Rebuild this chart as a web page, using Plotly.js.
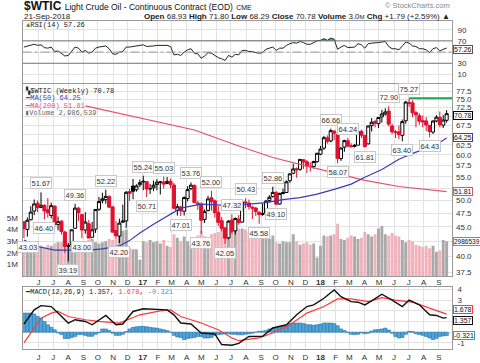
<!DOCTYPE html>
<html><head><meta charset="utf-8">
<script src="https://cdn.plot.ly/plotly-3.0.1.min.js"></script>
<style>html,body{margin:0;padding:0;background:#fff;}#chart{width:480px;height:363px;}</style>
</head><body><div id="chart"></div>
<script>
const weeks = ["2016-05-02","2016-05-09","2016-05-16","2016-05-23","2016-05-30","2016-06-06","2016-06-13","2016-06-20","2016-06-27","2016-07-04",
"2016-07-11","2016-07-18","2016-07-25","2016-08-01","2016-08-08","2016-08-15","2016-08-22","2016-08-29","2016-09-05","2016-09-12",
"2016-09-19","2016-09-26","2016-10-03","2016-10-10","2016-10-17","2016-10-24","2016-10-31","2016-11-07","2016-11-14","2016-11-21",
"2016-11-28","2016-12-05","2016-12-12","2016-12-19","2016-12-26","2017-01-02","2017-01-09","2017-01-16","2017-01-23","2017-01-30",
"2017-02-06","2017-02-13","2017-02-20","2017-02-27","2017-03-06","2017-03-13","2017-03-20","2017-03-27","2017-04-03","2017-04-10",
"2017-04-17","2017-04-24","2017-05-01","2017-05-08","2017-05-15","2017-05-22","2017-05-29","2017-06-05","2017-06-12","2017-06-19",
"2017-06-26","2017-07-03","2017-07-10","2017-07-17","2017-07-24","2017-07-31","2017-08-07","2017-08-14","2017-08-21","2017-08-28",
"2017-09-04","2017-09-11","2017-09-18","2017-09-25","2017-10-02","2017-10-09","2017-10-16","2017-10-23","2017-10-30","2017-11-06",
"2017-11-13","2017-11-20","2017-11-27","2017-12-04","2017-12-11","2017-12-18","2017-12-25","2018-01-01","2018-01-08","2018-01-15",
"2018-01-22","2018-01-29","2018-02-05","2018-02-12","2018-02-19","2018-02-26","2018-03-05","2018-03-12","2018-03-19","2018-03-26",
"2018-04-02","2018-04-09","2018-04-16","2018-04-23","2018-04-30","2018-05-07","2018-05-14","2018-05-21","2018-05-28","2018-06-04",
"2018-06-11","2018-06-18","2018-06-25","2018-07-02","2018-07-09","2018-07-16","2018-07-23","2018-07-30","2018-08-06","2018-08-13",
"2018-08-20","2018-08-27","2018-09-03","2018-09-10","2018-09-17"];

const openP = [45.92,44.55,46.31,47.94,49.47,48.62,49.05,48.22,47.10,48.90,
45.43,46.05,44.08,41.62,41.94,44.75,48.50,47.27,44.44,45.58,
43.17,44.59,48.29,49.96,50.18,50.83,48.74,44.36,43.38,45.85,
46.10,51.82,52.98,52.22,53.27,53.87,53.92,52.45,52.61,53.30,
53.80,53.86,53.54,54.01,53.20,48.05,48.73,47.91,50.40,52.47,
53.10,49.51,49.30,46.37,48.07,50.55,49.96,47.72,46.14,44.80,
43.07,46.25,44.29,46.45,45.87,49.73,49.50,48.70,48.52,47.71,
47.29,47.57,50.02,50.82,51.60,49.31,51.63,51.64,54.12,55.77,
56.80,56.65,58.86,58.40,57.27,57.30,58.40,60.20,61.66,64.26,
63.46,66.00,65.15,59.14,61.90,63.51,62.25,62.10,62.41,65.95,
64.90,62.73,67.48,68.61,68.00,69.87,70.67,71.53,67.40,65.75,
65.83,64.90,68.80,74.04,73.90,71.08,70.20,68.82,68.76,67.55,
65.76,68.73,69.75,67.60,68.93];
const highP = [46.05,46.74,48.88,50.21,50.00,51.67,49.28,50.48,49.60,49.05,
46.91,46.23,44.34,42.20,44.51,49.36,48.75,47.39,47.72,46.25,
45.92,48.30,50.74,51.60,52.22,51.04,48.91,46.08,46.51,49.20,
51.93,52.42,54.51,53.36,54.37,55.24,54.04,53.43,54.15,54.46,
54.08,55.03,54.94,54.62,53.66,49.35,48.98,50.85,52.94,53.76,
53.34,49.95,49.65,48.27,50.96,52.00,50.23,48.97,46.82,44.97,
46.26,47.32,46.74,47.20,49.81,50.43,50.22,49.00,48.77,47.94,
49.42,50.14,51.10,52.86,51.98,51.60,52.44,54.20,55.72,57.92,
57.08,58.98,59.05,58.80,58.29,58.62,60.51,62.21,64.77,64.89,
66.66,66.29,65.19,61.94,63.77,64.24,62.90,62.75,66.55,66.40,
64.93,67.45,69.56,69.09,69.84,71.89,72.30,72.90,67.96,66.30,
67.50,69.15,74.46,75.27,74.70,71.63,70.91,70.26,69.83,67.60,
68.95,70.36,71.40,70.41,71.80];
const lowP = [43.03,43.28,46.19,47.16,47.75,48.59,46.40,46.71,46.55,44.77,
44.39,43.64,40.57,39.19,41.61,44.74,46.10,43.00,43.80,43.03,
43.06,43.93,47.98,49.43,49.36,48.53,43.98,43.03,42.20,45.74,
44.82,49.93,50.27,51.82,52.77,52.11,50.71,51.35,51.92,52.12,
51.22,52.49,53.38,52.52,48.32,47.09,47.01,47.09,49.82,52.09,
49.45,48.18,43.76,45.69,47.85,47.99,46.69,45.20,44.21,42.05,
42.83,43.79,43.65,45.40,45.80,48.49,48.20,46.46,47.02,45.58,
47.04,46.97,49.58,50.60,49.10,49.19,51.25,51.55,53.71,55.55,
54.78,56.31,56.75,55.82,56.14,56.80,58.17,59.96,61.23,62.76,
63.12,63.65,58.07,58.60,60.78,61.90,61.85,61.83,62.40,64.23,
61.81,62.60,65.92,66.98,66.83,68.30,70.26,67.30,65.19,64.22,
63.96,63.40,67.98,72.77,69.80,67.03,67.74,67.01,66.09,64.43,
65.25,68.40,67.03,66.80,68.29];
const closeP = [44.66,46.21,47.75,49.33,48.62,49.07,47.98,47.64,48.99,45.41,
45.95,44.19,41.60,41.80,44.49,48.52,47.64,44.44,45.88,43.03,
44.48,48.24,49.81,50.35,50.85,48.70,44.07,43.41,45.69,46.06,
51.68,51.50,51.90,53.02,53.72,53.99,52.37,52.42,53.17,53.83,
53.86,53.40,53.99,53.33,48.49,48.78,47.97,50.60,52.24,53.18,
49.62,49.33,46.22,47.84,50.33,49.80,47.66,45.83,44.74,43.01,
46.04,44.23,46.54,45.77,49.71,49.58,48.82,48.51,47.87,47.29,
47.48,49.89,50.66,51.67,49.29,51.45,51.47,53.90,55.64,56.74,
56.55,58.95,58.36,57.36,57.30,58.47,60.42,61.44,64.30,63.37,
66.14,65.45,59.20,61.68,63.55,62.20,62.04,62.34,65.88,64.94,
62.06,67.39,68.38,68.10,69.72,70.70,71.28,67.88,65.81,65.74,
65.06,68.58,74.15,73.80,71.01,70.46,68.69,68.49,67.63,65.91,
68.72,69.80,67.75,68.99,70.78];
const volume = [2300000,2200000,2100000,2300000,2500000,2600000,2500000,2700000,2600000,2800000,
2900000,2900000,3000000,2600000,2800000,3000000,2700000,2800000,3000000,3100000,
3200000,2900000,2800000,2900000,3000000,3200000,3100000,3300000,3800000,3900000,
4000000,2400000,2300000,2300000,1400000,3000000,2900000,3100000,2900000,3000000,
2800000,3100000,2600000,2500000,3600000,3300000,3000000,3400000,3000000,2700000,
2800000,3500000,3900000,3400000,3300000,3600000,3700000,3800000,4000000,3800000,
3600000,4000000,3900000,4100000,4100000,4000000,3800000,3400000,3300000,3500000,
3300000,3400000,3200000,3500000,2900000,2800000,3000000,2900000,2900000,3600000,
3000000,2700000,2800000,2900000,2700000,2800000,1600000,2600000,3500000,3400000,
3500000,3600000,4500000,3200000,3100000,3300000,3500000,3400000,3200000,3300000,
3800000,3600000,3400000,3600000,4100000,4300000,3600000,3500000,3700000,3500000,
3400000,3100000,2900000,3100000,3000000,2700000,2600000,2500000,2600000,2400000,
2600000,2100000,2200000,3100000,2986539];

// moving averages
const ma50Dates = ["2016-05-02","2016-05-30","2016-07-04","2016-08-01","2016-09-12","2016-10-10","2016-11-14","2016-12-05","2016-12-26","2017-01-23","2017-02-27","2017-03-20","2017-05-01","2017-07-03","2017-09-11","2017-10-16","2017-11-20","2017-12-25","2018-01-29","2018-03-05","2018-04-02","2018-05-07","2018-06-11","2018-07-16","2018-08-20","2018-09-17"];
const ma50Vals = [42.7,41.6,41.0,41.0,41.0,41.2,41.7,42.6,43.9,45.5,47.3,48.5,49.3,49.0,49.6,50.2,50.6,51.3,52.3,53.4,54.9,56.6,59.0,60.7,62.0,64.25];
const ma200Dates = ["2016-09-05","2017-01-02","2017-04-17","2017-07-17","2017-09-25","2017-12-04","2018-02-12","2018-04-02","2018-06-11","2018-09-17"];
const ma200Vals = [73.0,69.4,66.3,62.2,59.4,57.4,55.5,54.2,52.9,51.81];

// RSI(14), one value per week
const rsi = [59,61,62,64,62,63,58,57,59,51,
52,48,43,44,51,59,57,50,53,48,
50,57,59,60,61,56,47,46,50,51,
59,59,60,62,63,63,60,60,61,62,
62,61,62,60,45,46,44,50,54,56,
48,47,39,43,49,48,44,40,38,35,
44,41,46,45,53,53,51,51,49,48,
49,55,57,59,53,57,57,62,65,67,
66,69,67,64,64,67,70,71,74,71,
75,73,55,59,62,58,59,59,65,63,
57,65,66,66,67,68,69,60,56,56,
54,61,68,66,61,60,56,56,54,49,
56,58,52,55,57.26];

// MACD(12,26,9)
const macdDates = ["2016-05-02","2016-05-23","2016-06-06","2016-06-27","2016-07-11","2016-08-01","2016-08-15","2016-09-05","2016-09-19","2016-10-17","2016-11-07","2016-11-21","2016-12-12","2017-01-02","2017-02-20","2017-03-06","2017-03-20","2017-04-10","2017-05-01","2017-05-29","2017-06-12","2017-07-03","2017-07-17","2017-08-07","2017-09-04","2017-09-25","2017-10-23","2017-11-13","2017-12-04","2017-12-18","2018-01-08","2018-01-29","2018-02-12","2018-03-05","2018-03-19","2018-04-02","2018-04-16","2018-05-07","2018-05-28","2018-06-18","2018-07-02","2018-07-23","2018-08-13","2018-08-27","2018-09-10","2018-09-17"];
const macdVals = [0.76,2.08,2.48,2.39,1.78,0.85,1.16,1.0,0.69,1.56,0.69,0.76,1.93,2.18,2.08,1.62,0.85,0.76,-0.08,-0.17,-1.16,-1.22,-1.05,-0.4,-0.39,0.39,0.69,1.62,2.39,2.55,3.17,3.94,3.31,2.85,2.8,2.55,2.92,3.54,3.0,2.39,3.0,2.55,1.62,1.56,1.31,1.357];
const signalDates = ["2016-05-02","2016-05-23","2016-06-06","2016-06-27","2016-07-11","2016-08-01","2016-09-05","2016-10-03","2016-11-14","2016-12-26","2017-02-06","2017-02-27","2017-03-20","2017-05-01","2017-06-05","2017-07-03","2017-07-17","2017-08-28","2017-09-25","2017-10-30","2017-12-04","2018-01-08","2018-02-05","2018-03-05","2018-04-09","2018-05-07","2018-06-04","2018-07-09","2018-08-13","2018-09-17"];
const signalVals = [-1.0,0.39,1.31,1.78,1.93,1.46,1.16,1.0,0.85,1.62,1.99,2.08,1.46,0.85,0.23,-0.54,-0.8,-0.54,-0.08,0.69,1.78,2.39,3.1,3.1,2.85,3.22,3.0,2.8,2.24,1.678];
const histVals = [1.78,1.78,1.78,1.70,1.46,1.31,1.00,0.69,0.45,0.23,
-0.08,-0.23,-0.60,-0.60,-0.50,-0.40,-0.23,-0.23,-0.30,-0.39,
-0.39,-0.20,-0.08,0.30,0.30,0.15,-0.10,-0.30,-0.30,-0.20,
0.05,0.30,0.45,0.50,0.54,0.54,0.50,0.45,0.40,0.38,
0.30,0.23,0.15,0.00,-0.30,-0.45,-0.50,-0.70,-0.60,-0.55,
-0.50,-0.40,-0.40,-0.55,-0.55,-0.50,-0.30,-0.23,-0.20,-0.15,
-0.15,-0.20,-0.20,-0.25,-0.25,-0.20,-0.15,-0.10,0.00,0.08,
0.10,0.15,0.30,0.38,0.40,0.50,0.54,0.60,0.80,0.85,
0.85,0.85,0.80,0.70,0.69,0.65,0.69,0.75,0.85,0.85,
0.85,0.80,0.60,0.30,0.15,-0.05,-0.20,-0.23,-0.20,-0.08,
-0.15,-0.10,0.10,0.23,0.25,0.30,0.38,0.20,-0.10,-0.40,
-0.55,-0.50,-0.20,0.08,0.05,-0.15,-0.23,-0.30,-0.40,-0.55,
-0.70,-0.60,-0.40,-0.35,-0.321];

// swing price labels
const labelDates = ["2016-05-02","2016-06-06","2016-06-13","2016-08-01","2016-08-15","2016-08-29","2016-10-17","2016-11-14","2017-01-02","2017-01-09","2017-02-13","2017-03-20","2017-04-10","2017-05-01","2017-05-22","2017-06-19","2017-07-03","2017-07-31","2017-08-28","2017-09-25","2017-10-02","2018-01-22","2018-02-05","2018-02-26","2018-04-02","2018-05-21","2018-06-18","2018-07-02","2018-08-13"];
const labelVals = [43.03,51.67,46.40,39.19,49.36,43.00,52.22,42.20,55.24,50.71,55.03,47.01,53.76,43.76,52.00,42.05,47.32,50.43,45.58,52.86,49.10,66.66,58.07,64.24,61.81,72.90,63.40,75.27,64.43];
const labelSide = ["L","H","L","L","H","L","H","L","H","L","H","L","H","L","H","L","H","H","L","H","L","H","L","H","L","H","L","H","L"];

// resistance line from the last major high
const resistDates = ["2018-07-02","2018-09-28"];
const resistVals = [75.27,75.27];

// axis ticks (labels hidden by the value tags in the reference are blank)
const monthTicks = ["2016-06-01","2016-07-01","2016-08-01","2016-09-01","2016-10-01","2016-11-01","2016-12-01","2017-01-01","2017-02-01","2017-03-01","2017-04-01","2017-05-01","2017-06-01","2017-07-01","2017-08-01","2017-09-01","2017-10-01","2017-11-01","2017-12-01","2018-01-01","2018-02-01","2018-03-01","2018-04-01","2018-05-01","2018-06-01","2018-07-01","2018-08-01","2018-09-01"];
const monthLabels = ["J","J","A","S","O","N","D","<b>17</b>","F","M","A","M","J","J","A","S","O","N","D","<b>18</b>","F","M","A","M","J","J","A","S"];
const priceTicks = [37.5,40,42.5,45,47.5,50,52.5,55,57.5,60,62.5,65,67.5,70,72.5,75,77.5];
const priceTickText = ["37.5","40.0","","45.0","47.5","50.0","","55.0","57.5","60.0","62.5","","67.5","","72.5","75.0","77.5"];
const volTicks = [1000000,2000000,3000000,4000000,5000000];
const volTickText = ["1M","2M","3M","4M","5M"];
const rsiTicks = [10,30,50,70,90];
const rsiTickText = ["10","30","","70","90"];
const macdTicks = [-1,0,1,2,3,4];
const macdTickText = ["-1","","","","3","4"];

// ---------- build ----------
const W = 480, H = 363;
const px = x => x / W, py = y => 1 - y / H;
const GRID = '#e2e2e2', FRAME = '#9a9a9a';
const RED = '#e0102f', BLK = '#000000';
const xRange = ['2016-04-29', '2018-09-28'];
const last = closeP.length - 1;

const prev = closeP.map((c, i) => i === 0 ? openP[0] : closeP[i - 1]);
const upIdx = [], dnIdx = [];
closeP.forEach((c, i) => (c >= prev[i] ? upIdx : dnIdx).push(i));
const pick = (a, idx) => idx.map(i => a[i]);

const traces = [];
traces.push({type:'bar', x:weeks, y:volume, xaxis:'x', yaxis:'y',
  marker:{color: closeP.map((c,i)=> c >= prev[i] ? '#a9a9a9' : '#f0b3bc'), line:{width:0}},
  width: 6*24*3600*1000, hoverinfo:'skip'});
traces.push({type:'scatter', mode:'lines', x:ma200Dates, y:ma200Vals, xaxis:'x', yaxis:'y4', line:{color:'#e8506c', width:1.2}});
traces.push({type:'scatter', mode:'lines', x:ma50Dates, y:ma50Vals, xaxis:'x', yaxis:'y4', line:{color:'#3c3cb4', width:1.2}});
traces.push({type:'candlestick', x:pick(weeks,upIdx), open:pick(openP,upIdx), high:pick(highP,upIdx), low:pick(lowP,upIdx), close:pick(closeP,upIdx),
  xaxis:'x', yaxis:'y4', whiskerwidth:0,
  increasing:{line:{color:BLK, width:1}, fillcolor:'#ffffff'}, decreasing:{line:{color:BLK, width:1}, fillcolor:BLK}});
traces.push({type:'candlestick', x:pick(weeks,dnIdx), open:pick(openP,dnIdx), high:pick(highP,dnIdx), low:pick(lowP,dnIdx), close:pick(closeP,dnIdx),
  xaxis:'x', yaxis:'y4', whiskerwidth:0,
  increasing:{line:{color:RED, width:1}, fillcolor:'#ffffff'}, decreasing:{line:{color:RED, width:1}, fillcolor:RED}});
traces.push({type:'scatter', mode:'lines', x:resistDates, y:resistVals, xaxis:'x', yaxis:'y4', line:{color:'#1aa64a', width:2}});

traces.push({type:'scatter', mode:'lines', x:weeks, y:rsi.map(()=>70), xaxis:'x2', yaxis:'y2', line:{width:0}, hoverinfo:'skip'});
traces.push({type:'scatter', mode:'lines', x:weeks, y:rsi.map(v=>Math.max(v,70)), xaxis:'x2', yaxis:'y2', line:{width:0}, fill:'tonexty', fillcolor:'rgba(70,160,80,0.85)'});
traces.push({type:'scatter', mode:'lines', x:weeks, y:rsi, xaxis:'x2', yaxis:'y2', line:{color:'#222', width:1}});

traces.push({type:'bar', x:weeks, y:histVals, xaxis:'x3', yaxis:'y3', width:7*24*3600*1000,
  marker:{color:'#4ea6d8', line:{color:'#2a73a8', width:0.6}}});
traces.push({type:'scatter', mode:'lines', x:signalDates, y:signalVals, xaxis:'x3', yaxis:'y3', line:{color:'#ff3a3a', width:1.2}});
traces.push({type:'scatter', mode:'lines', x:macdDates, y:macdVals, xaxis:'x3', yaxis:'y3', line:{color:'#111', width:1.4}});

const XDOM = [px(22.5), px(452)];
const rsiDom = [py(83), py(21)];
const mainDom = [py(276), py(84)];
const macdDom = [py(349), py(287)];
const tf = {family:'Liberation Sans, Arial, sans-serif', size:8, color:'#333'};
const xBase = {type:'date', range:xRange, tickvals:monthTicks, ticktext:monthLabels, showgrid:true, gridcolor:GRID, gridwidth:1,
  ticks:'', showline:true, mirror:true, linecolor:FRAME, linewidth:1, zeroline:false, tickfont:tf, ticklabelstandoff:0, domain:XDOM};

const ann = [];
const A = (o) => ann.push(Object.assign({showarrow:false, xref:'paper', yref:'paper'}, o));
A({x:px(22), y:py(6), xanchor:'left', yanchor:'middle',
  text:"<b>$WTIC</b> <span style='font-size:8.5px'>Light Crude Oil - Continuous Contract (EOD)</span> <span style='font-size:7px'>CME</span>",
  font:{family:'Liberation Sans, Arial, sans-serif', size:12, color:'#111'}});
A({x:px(452), y:py(6), xanchor:'right', yanchor:'middle', text:'© StockCharts.com', font:{family:'Liberation Sans, Arial, sans-serif', size:7.5, color:'#888'}});
A({x:px(22), y:py(16), xanchor:'left', yanchor:'middle', text:'21-Sep-2018', font:{family:'Liberation Sans, Arial, sans-serif', size:8, color:'#222'}});
const chg = closeP[last] - closeP[last-1];
const chgPct = chg / closeP[last-1] * 100;
A({x:px(452), y:py(16), xanchor:'right', yanchor:'middle',
  text:`<b>Open</b> ${openP[last].toFixed(2)} <b>High</b> ${highP[last].toFixed(2)} <b>Low</b> ${lowP[last].toFixed(2)} <b>Close</b> ${closeP[last].toFixed(2)} <b>Volume</b> ${(volume[last]/1e6).toFixed(1)}<span style='font-size:6px'>M</span> <b>Chg</b> +${chg.toFixed(2)} (+${chgPct.toFixed(2)}%) ▲`,
  font:{family:'Liberation Sans, Arial, sans-serif', size:8, color:'#222'}});
const mono = {family:'Liberation Mono, DejaVu Sans Mono, monospace', size:7, color:'#222'};
A({x:px(24), y:py(25.5), xanchor:'left', yanchor:'middle', text:`<span style='color:#3a8a3a'>▲</span>RSI(14) ${rsi[last].toFixed(2)}`, font:mono});
A({x:px(24), y:py(90.5), xanchor:'left', yanchor:'middle', borderpad:0, text:`<b>▚</b>$WTIC (Weekly) ${closeP[last].toFixed(2)}`, font:mono});
A({x:px(24), y:py(98), xanchor:'left', yanchor:'middle', borderpad:0, text:`<b>━</b>MA(50) ${ma50Vals[ma50Vals.length-1].toFixed(2)}`, font:Object.assign({},mono,{color:'#3c3cb4'})});
A({x:px(24), y:py(105.5), xanchor:'left', yanchor:'middle', borderpad:0, text:`<b>━</b>MA(200) ${ma200Vals[ma200Vals.length-1].toFixed(2)}`, font:Object.assign({},mono,{color:'#e8506c'})});
A({x:px(24), y:py(113), xanchor:'left', yanchor:'middle', borderpad:0, text:`▮Volume ${volume[last].toLocaleString('en-US')}`, font:Object.assign({},mono,{color:'#666'})});
A({x:px(24), y:py(292), xanchor:'left', yanchor:'middle', borderpad:0,
  text:`<b>━</b>MACD(12,26,9) ${macdVals[macdVals.length-1].toFixed(3)}, <span style='color:#ff3a3a'>${signalVals[signalVals.length-1].toFixed(3)}</span>, <span style='color:#3a9ad0'>${histVals[last].toFixed(3)}</span>`,
  font:mono, bgcolor:'rgba(255,255,255,0.8)'});

const tag = (yref, y, txt, color, yshift, size) => ann.push({xref:'paper', yref, x:px(452.5), y, xanchor:'left', yanchor:'middle', yshift:yshift||0,
  text:txt, showarrow:false, bgcolor:'#fff', bordercolor:color, borderwidth:1, borderpad:0,
  font:{family:'Liberation Sans, Arial, sans-serif', size:size||7, color:'#111'}});
tag('y2', rsi[last], rsi[last].toFixed(2), '#555', -1);
tag('y4', Math.log10(closeP[last]), closeP[last].toFixed(2), '#000', -1.5);
tag('y4', Math.log10(ma50Vals[ma50Vals.length-1]), ma50Vals[ma50Vals.length-1].toFixed(2), '#3c3cb4');
tag('y4', Math.log10(ma200Vals[ma200Vals.length-1]), ma200Vals[ma200Vals.length-1].toFixed(2), '#e8506c');
tag('y', volume[last], String(volume[last]), '#888', 0, 6.5);
tag('y3', signalVals[signalVals.length-1], signalVals[signalVals.length-1].toFixed(3), '#ff3a3a', 5, 7);
tag('y3', macdVals[macdVals.length-1], macdVals[macdVals.length-1].toFixed(3), '#111', -3, 7);
tag('y3', histVals[last], histVals[last].toFixed(3), '#3a9ad0', 0, 7);

labelDates.forEach((d, i) => {
  const hi = labelSide[i] === 'H';
  ann.push({xref:'x', yref:'y4', x:d, y:Math.log10(labelVals[i]), text:labelVals[i].toFixed(2), showarrow:false,
    xshift: i === 0 ? 4 : 0,
    yanchor: hi ? 'bottom' : 'top', yshift: hi ? 3 : -3, bgcolor:'rgba(255,255,255,0.92)', bordercolor:'#c8c8c8', borderwidth:1, borderpad:0.5,
    font:{family:'Liberation Sans, Arial, sans-serif', size:7.5, color:'#333'}});
});

const shapes = [
  {type:'line', xref:'x2 domain', yref:'y2', x0:0, x1:1, y0:70, y1:70, line:{color:'#7a7a7a', width:1}},
  {type:'line', xref:'x2 domain', yref:'y2', x0:0, x1:1, y0:30, y1:30, line:{color:'#7a7a7a', width:1}},
  {type:'line', xref:'x2 domain', yref:'y2', x0:0, x1:1, y0:50, y1:50, line:{color:'#9a9a9a', width:1, dash:'dashdot'}}
];

const layout = {
  width:W, height:H, margin:{l:0, r:0, t:0, b:0}, paper_bgcolor:'#fff', plot_bgcolor:'#fff',
  showlegend:false, hovermode:false, boxgap:0.1, boxgroupgap:0, barmode:'overlay',
  font:tf,
  xaxis: Object.assign({}, xBase, {anchor:'y', rangeslider:{visible:false}, ticklabelstandoff:-2}),
  yaxis: {domain:mainDom, anchor:'x', side:'left', range:[0, 16.55e6], tickvals:volTicks, ticktext:volTickText, showgrid:false, ticks:'',
    showline:true, mirror:true, linecolor:FRAME, zeroline:false, tickfont:tf, ticklabelstandoff:2},
  yaxis4: {overlaying:'y', anchor:'x', side:'right', type:'log', range:[1.56793, 1.90148], tickvals:priceTicks, ticktext:priceTickText,
    showgrid:true, gridcolor:GRID, ticks:'', zeroline:false, tickfont:tf, ticklabelstandoff:3},
  xaxis2: Object.assign({}, xBase, {anchor:'y2', matches:'x', showticklabels:false}),
  yaxis2: {domain:rsiDom, anchor:'x2', side:'right', range:[-5.3, 105.6], tickvals:rsiTicks, ticktext:rsiTickText, showgrid:true, gridcolor:GRID, ticks:'',
    zeroline:false, showline:true, mirror:true, linecolor:FRAME, tickfont:tf, ticklabelstandoff:3},
  xaxis3: Object.assign({}, xBase, {anchor:'y3', matches:'x'}),
  yaxis3: {domain:macdDom, anchor:'x3', side:'right', range:[-1.574, 4.218], tickvals:macdTicks, ticktext:macdTickText, showgrid:true, gridcolor:GRID, ticks:'',
    zeroline:false, showline:true, mirror:true, linecolor:FRAME, tickfont:tf, ticklabelstandoff:3},
  annotations: ann,
  shapes: shapes
};

Plotly.newPlot('chart', traces, layout, {displayModeBar:false, staticPlot:true});
</script>
</body></html>
